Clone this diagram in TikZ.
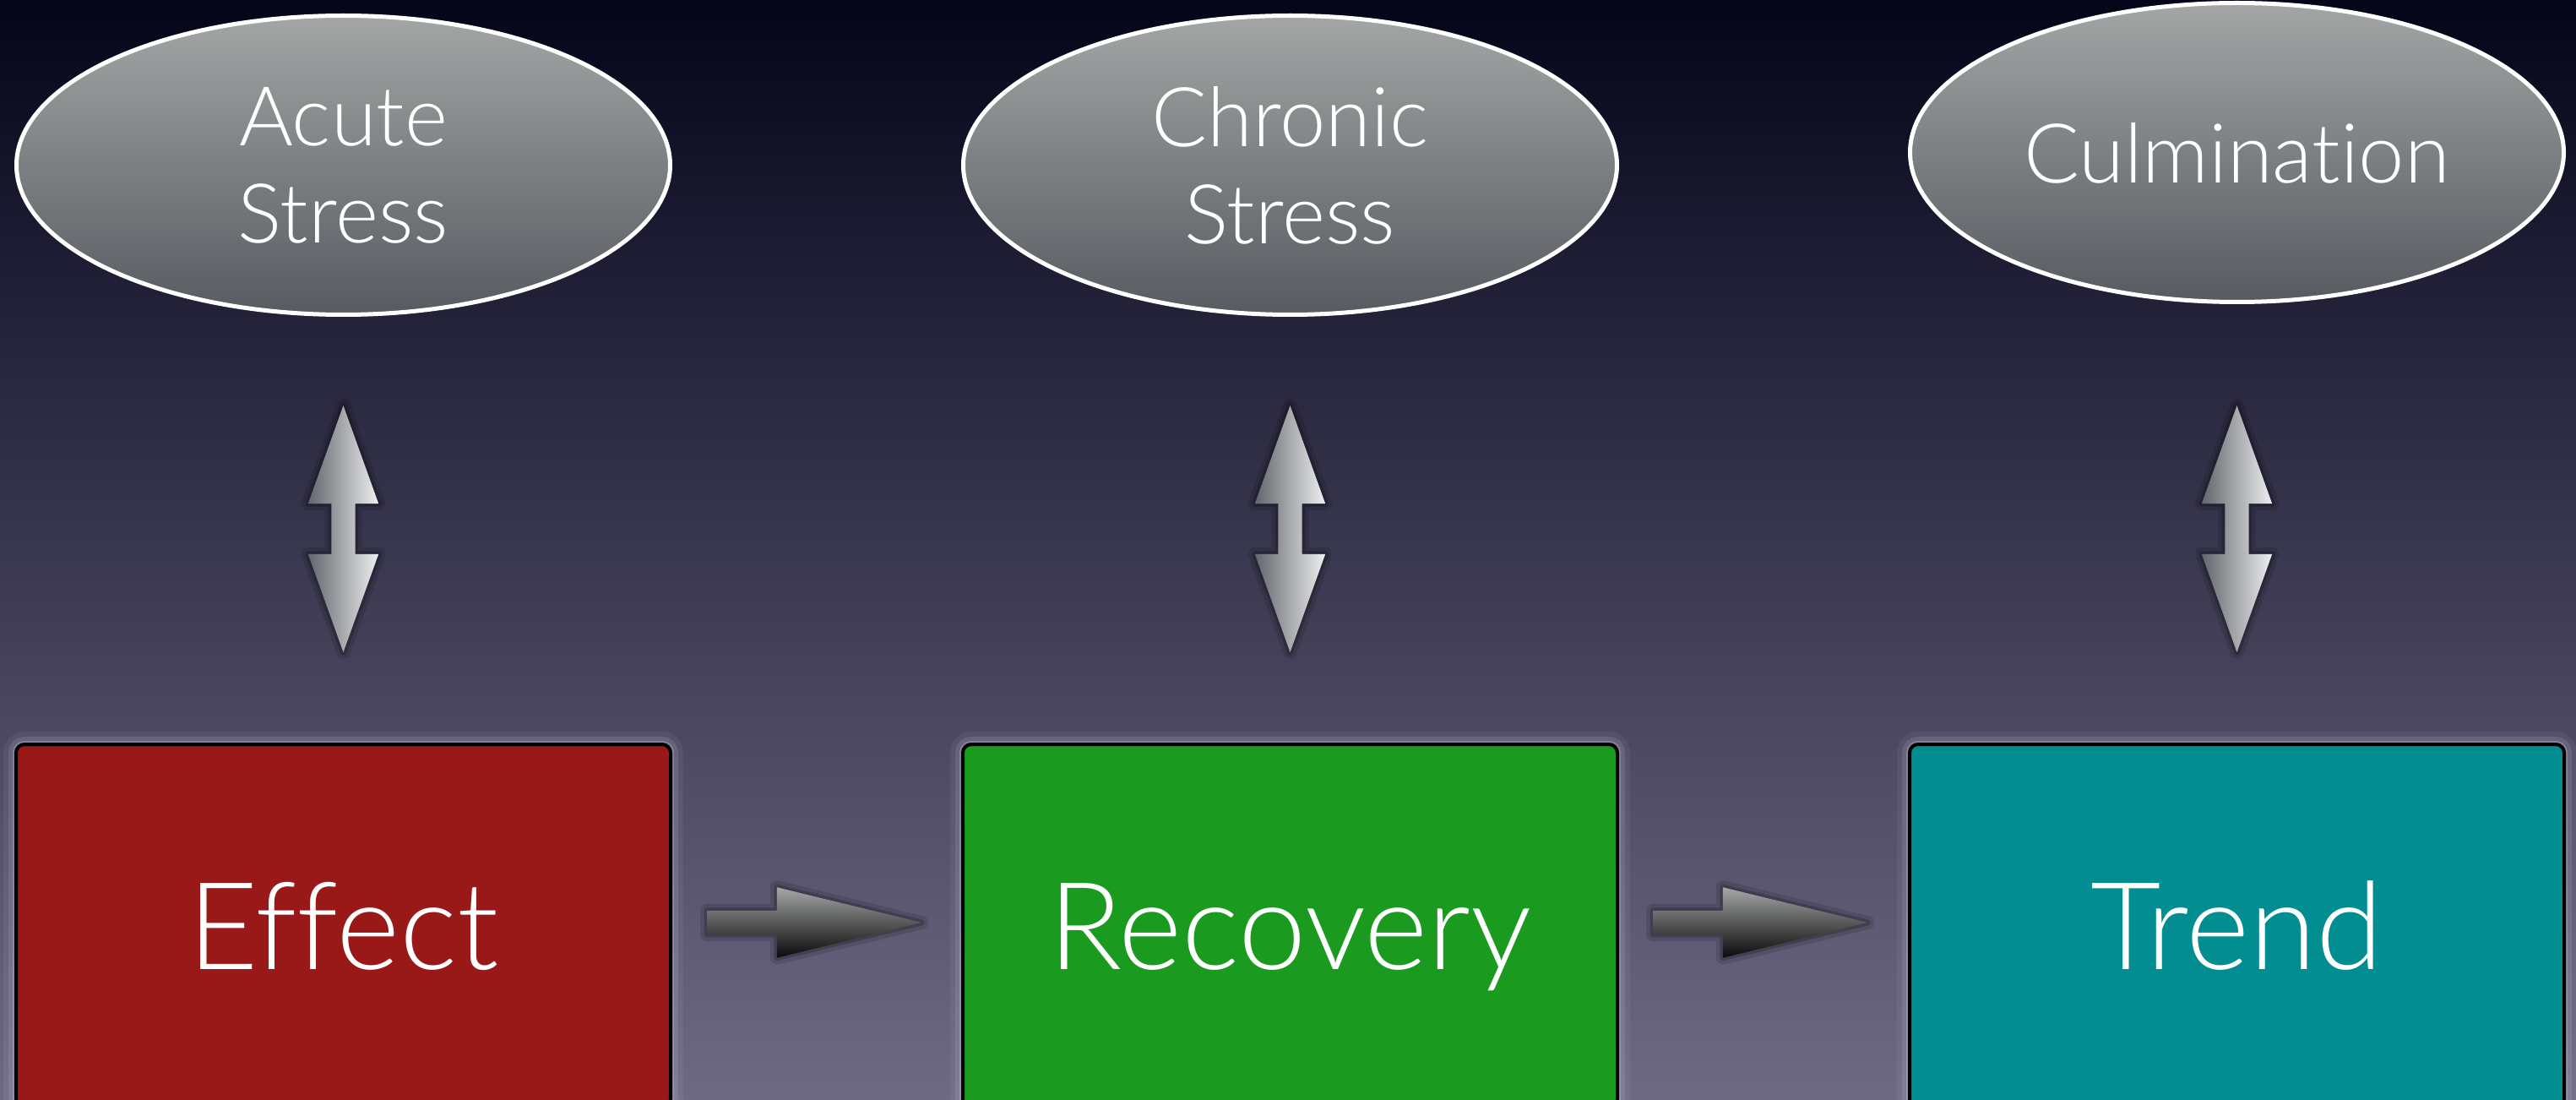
\documentclass[tikz,border=0pt]{standalone}
\usepackage{fontspec}
\setsansfont{Lato Light}[Ligatures=NoCommon]
\usepackage{xcolor}
\usepackage{tikz}
\usetikzlibrary{
  shapes.geometric, shapes.arrows, arrows.meta, positioning, calc
}
\definecolor{bgtop}{HTML}{05051A}
\definecolor{bgmid}{HTML}{2E2D50}
\definecolor{bgbot}{HTML}{6E6A84}
\definecolor{effectred}{HTML}{981918}
\definecolor{recoverygreen}{HTML}{1A9A1E}
\definecolor{trendteal}{HTML}{028E90}
\definecolor{ovaltop}{HTML}{A3A6A5}
\definecolor{ovalbot}{HTML}{575A60}
\definecolor{twodark}{HTML}{63666C}
\definecolor{twolight}{HTML}{EDEEEF}
\definecolor{flowtop}{HTML}{A4A7A5}
\definecolor{flowbot}{HTML}{0A0A0A}
\definecolor{halo}{HTML}{C8C8DC}

\begin{document}
\begin{tikzpicture}[
    font=\sffamily,
    block/.style={rectangle, draw=black, line width=0.4mm, fill=#1, rounded corners=0.1cm,
        minimum width=7.75cm, minimum height=4.3cm, inner sep=0pt, text=white,
        text height=1.03cm, text depth=0pt, font=\sffamily\fontsize{41}{48}\selectfont,
        preaction={draw=halo, line width=0.3cm, opacity=0.08},
        preaction={draw=halo, line width=0.18cm, opacity=0.15},
        preaction={draw=halo, line width=0.08cm, opacity=0.3}},
    oval/.style={ellipse, draw=white, line width=0.5mm, top color=ovaltop, bottom color=ovalbot,
        minimum width=7.74cm, minimum height=3.54cm, inner sep=0pt, align=center, text=white,
        font=\sffamily\fontsize{27.8}{32.7}\selectfont},
    twoway/.style={double arrow, double arrow tip angle=39.5, double arrow head extend=0.275cm,
        minimum height=2.92cm, inner xsep=0pt, inner ysep=0.135cm, rotate=90,
        left color=twodark, right color=twolight,
        preaction={draw=black, line join=round, line width=0.16cm, opacity=0.12},
        preaction={draw=black, line join=round, line width=0.07cm, opacity=0.2}},
    flow/.style={single arrow, single arrow tip angle=27.4, single arrow head extend=0.275cm,
        minimum height=2.54cm, inner xsep=0pt, inner ysep=0.135cm, anchor=tip,
        top color=flowtop, bottom color=flowbot,
        preaction={draw=black, line join=round, line width=0.16cm, opacity=0.12},
        preaction={draw=black, line join=round, line width=0.07cm, opacity=0.2}},
]
    % Background
    \fill[top color=bgtop, middle color=bgmid, bottom color=bgbot] (0,0) rectangle (30.5,13.01);
    \useasboundingbox (0,0) rectangle (30.5,13.01);

    % Boxes
    \node[block=effectred] (effect) at (4.065,2.05) {Effect};
    \node[block=recoverygreen, right=3.42cm of effect] (recovery) {Recovery};
    \node[block=trendteal, right=3.42cm of recovery] (trend) {Trend};

    % Stress ovals
    \node[oval, above=5.04cm of effect] (acute) {Acute\\Stress};
    \node[oval, above=5.04cm of recovery] (chronic) {Chronic\\Stress};
    \node[oval, above=5.19cm of trend, text height=0.72cm, text depth=0pt] (culmination) {Culmination};

    % Double arrows
    \node[twoway] (acutelink) at ($(effect.north)+(0,2.53)$) {};
    \node[twoway] (chroniclink) at ($(recovery.north)+(0,2.53)$) {};
    \node[twoway] (culminationlink) at ($(trend.north)+(0,2.53)$) {};

    % Flow arrows
    \node[flow] (effectflow) at ($(recovery.west)+(-0.44,0.04)$) {};
    \node[flow] (recoveryflow) at ($(trend.west)+(-0.45,0.04)$) {};

\end{tikzpicture}
\end{document}
